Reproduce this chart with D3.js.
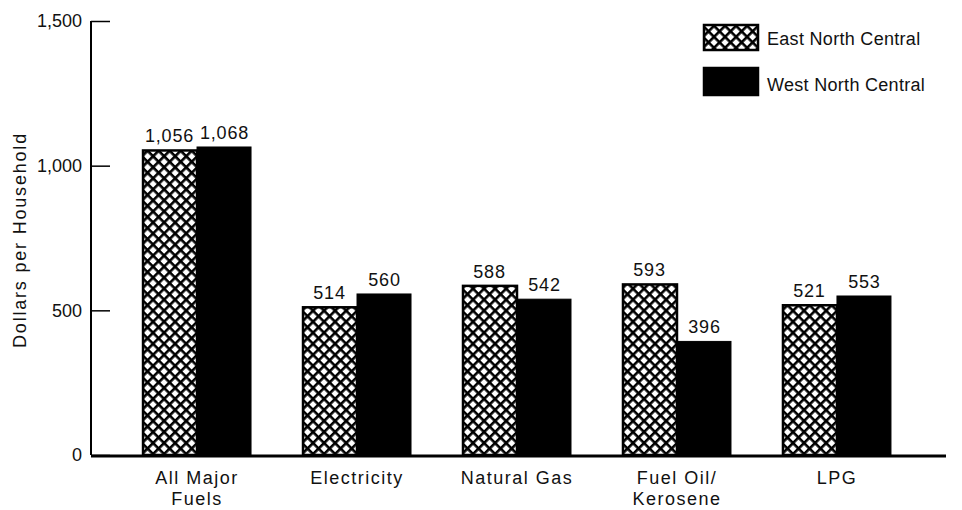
<!DOCTYPE html>
<html><head><meta charset="utf-8">
<script src="https://cdn.jsdelivr.net/npm/d3@7"></script>
<style>
html,body{margin:0;padding:0;background:#fff;}
svg{display:block;font-family:"Liberation Sans",Arial,Helvetica,sans-serif;}
</style></head>
<body>
<svg id="chart" width="962" height="510"></svg>
<script>
const categories = [["All Major","Fuels"],["Electricity"],["Natural Gas"],["Fuel Oil/","Kerosene"],["LPG"]];
const seriesNames = ["East North Central","West North Central"];
const eastValues = [1056, 514, 588, 593, 521];
const westValues = [1068, 560, 542, 396, 553];
const yTicks = [0, 500, 1000, 1500];
const yTitle = "Dollars per Household";

const svg = d3.select("#chart");
const axisX = 91, y0 = 455, yTop = 21;

const defs = svg.append("defs");
const pat = defs.append("pattern").attr("id","hatch").attr("patternUnits","userSpaceOnUse")
  .attr("width",7.8).attr("height",7.8).attr("patternTransform","rotate(45)");
pat.append("rect").attr("width",7.8).attr("height",7.8).attr("fill","#fff");
pat.append("rect").attr("x",0).attr("y",0).attr("width",7.8).attr("height",2.6).attr("fill","#000");
pat.append("rect").attr("x",0).attr("y",0).attr("width",2.6).attr("height",7.8).attr("fill","#000");

const y = d3.scaleLinear().domain([0,1500]).range([y0,yTop]);
const x = d3.scaleBand().domain(d3.range(categories.length)).range([axisX, 943])
  .paddingInner(0.3125).paddingOuter(0.319);
const xs = d3.scaleBand().domain([0,1]).range([0, x.bandwidth()]);

// y axis
const yAxis = d3.axisRight(y).tickValues(yTicks).tickSize(19).tickFormat("");
const gy = svg.append("g").attr("transform",`translate(${axisX},0)`).call(yAxis);
gy.select(".domain").attr("stroke","#000").attr("stroke-width",2).attr("d",`M0,${yTop}V${y0}`);
gy.selectAll(".tick line").attr("stroke","#000").attr("stroke-width",1.5);
svg.append("g").selectAll("text").data(yTicks).join("text")
  .attr("x",82).attr("y",d=>y(d)).attr("dy","0.36em").attr("text-anchor","end")
  .attr("font-size",18).attr("fill","#111").text(d=>d3.format(",")(d));

svg.append("text").attr("transform",`translate(26,${240}) rotate(-90)`)
  .attr("text-anchor","middle").attr("font-size",18).attr("letter-spacing",1.8)
  .attr("fill","#111").text(yTitle);

// bars
const groups = svg.append("g").selectAll("g").data(categories.map((c,i)=>i)).join("g")
  .attr("transform",i=>`translate(${x(i)},0)`);
const series = [eastValues, westValues];
groups.each(function(i){
  const g = d3.select(this);
  series.forEach((vals,s)=>{
    const v = vals[i];
    g.append("rect").attr("x",xs(s)+(s===0?1:0)).attr("y",y(v)+1)
      .attr("width",xs.bandwidth()-1).attr("height",y0-y(v)-1)
      .attr("fill", s===0 ? "url(#hatch)" : "#000")
      .attr("stroke","#000").attr("stroke-width",s===0?2.5:1);
    g.append("text").attr("x",xs(s)+xs.bandwidth()/2).attr("y",y(v)-7)
      .attr("text-anchor","middle").attr("font-size",18).attr("letter-spacing",0.8)
      .attr("fill","#111").text(d3.format(",")(v));
  });
});

// baseline
svg.append("line").attr("x1",axisX).attr("x2",946).attr("y1",y0+1).attr("y2",y0+1)
  .attr("stroke","#000").attr("stroke-width",3);

// x labels
const xl = svg.append("g").selectAll("text").data(categories).join("text")
  .attr("x",(d,i)=>x(i)+x.bandwidth()/2).attr("y",484)
  .attr("text-anchor","middle").attr("font-size",18).attr("letter-spacing",1.5).attr("fill","#111");
xl.each(function(lines){
  d3.select(this).selectAll("tspan").data(lines).join("tspan")
    .attr("x",d3.select(this).attr("x")).attr("dy",(d,j)=>j===0?0:21).text(d=>d);
});

// legend
const leg = svg.append("g").attr("transform","translate(703,24)");
seriesNames.forEach((n,s)=>{
  const gy2 = s*43;
  leg.append("rect").attr("x",1).attr("y",gy2+1).attr("width",54).attr("height",s===0?25:27)
    .attr("fill", s===0 ? "url(#hatch)" : "#000").attr("stroke","#000").attr("stroke-width",2.5);
  leg.append("text").attr("x",64).attr("y",gy2+15+s*3).attr("dy","0.36em")
    .attr("font-size",18).attr("letter-spacing",0.3).attr("fill","#111").text(n);
});
</script>
</body></html>
